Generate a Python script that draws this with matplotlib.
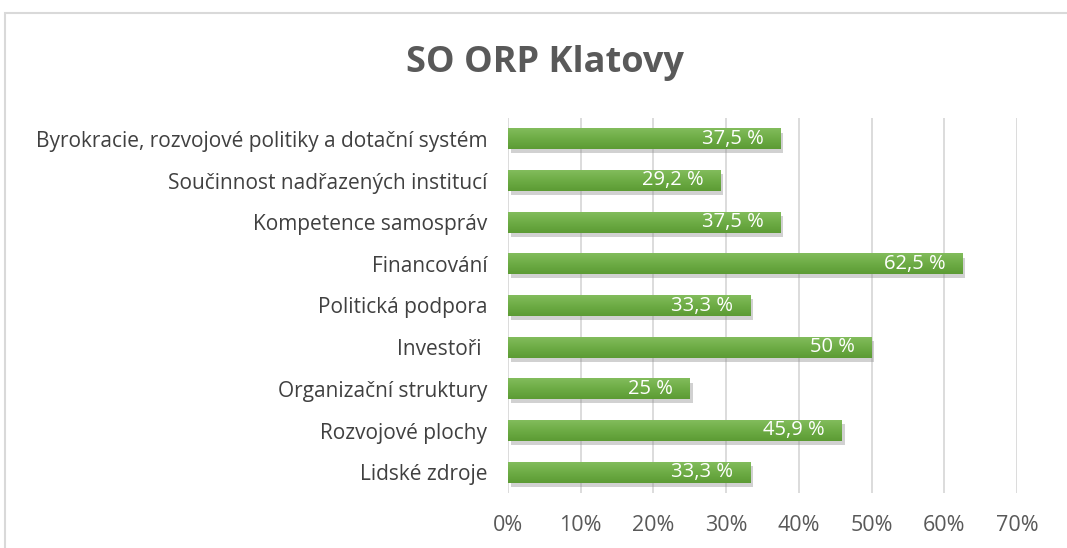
import numpy as np
import matplotlib.pyplot as plt
import matplotlib.patheffects as pe
from matplotlib.colors import LinearSegmentedColormap
from matplotlib.patches import Rectangle

# data, top to bottom as shown in the chart
categories = ['Byrokracie, rozvojové politiky a dotační systém',
              'Součinnost nadřazených institucí',
              'Kompetence samospráv',
              'Financování',
              'Politická podpora',
              'Investoři ',
              'Organizační struktury',
              'Rozvojové plochy',
              'Lidské zdroje']
values = [37.5, 29.2, 37.5, 62.5, 33.3, 50, 25, 45.9, 33.3]
labels = ['37,5 %', '29,2 %', '37,5 %', '62,5 %', '33,3 %', '50 %', '25 %', '45,9 %', '33,3 %']
xticks = [0, 10, 20, 30, 40, 50, 60, 70]

plt.rcParams['font.family'] = ['Open Sans', 'DejaVu Sans']

fig = plt.figure(figsize=(10.67, 5.48), dpi=100)
ax = fig.add_axes([508/1067, 1-493/548, (1017-508)/1067, 375/548])

# chart frame (only top and left edges are visible in the crop)
fig.patches.append(Rectangle((5/1067, -0.1), 2, (548-13)/548+0.1, transform=fig.transFigure,
                             fill=False, edgecolor='#D9D9D9', linewidth=1.5))

y = np.arange(len(values))[::-1]
h = 0.5
bars = ax.barh(y, values, height=h, color='#6DAC45', zorder=3,
               path_effects=[pe.SimplePatchShadow(offset=(2, -3), shadow_rgbFace='#8C8C8C', alpha=0.4),
                             pe.Normal()])

# top-light / bottom-dark gradient like excel
cmap = LinearSegmentedColormap.from_list('g', ['#5C9B34', '#6DAC45', '#82BC5C'])
grad = np.linspace(0, 1, 50).reshape(-1, 1)
for b, yy, v in zip(bars, y, values):
    im = ax.imshow(grad, extent=[0, v, yy - h/2, yy + h/2], origin='lower',
                   aspect='auto', cmap=cmap, zorder=4)
    im.set_clip_path(b)

for yy, v, lab in zip(y, values, labels):
    ax.annotate(lab, (v, yy), xytext=(-17, 0), textcoords='offset pixels',
                ha='right', va='center', color='white', fontsize=14.5, zorder=5)

ax.set_xlim(0, 70)
ax.set_ylim(-0.5, len(values) - 0.5)
ax.set_xticks(xticks)
ax.set_xticklabels(['{}%'.format(t) for t in xticks])
ax.set_yticks(y)
ax.set_yticklabels(categories)
ax.tick_params(length=0)
ax.tick_params(axis='x', pad=16, colors='#595959', labelsize=15.5)
ax.tick_params(axis='y', pad=15, colors='#404040', labelsize=15)
for s in ax.spines.values():
    s.set_visible(False)
ax.grid(axis='x', color='#D9D9D9', linewidth=1.3, zorder=0)
ax.set_axisbelow(True)

fig.text(545/1067, 1-63/548, 'SO ORP Klatovy', ha='center', va='center',
         fontsize=26, fontweight='bold', color='#595959')

plt.savefig('out.png', dpi=100)
